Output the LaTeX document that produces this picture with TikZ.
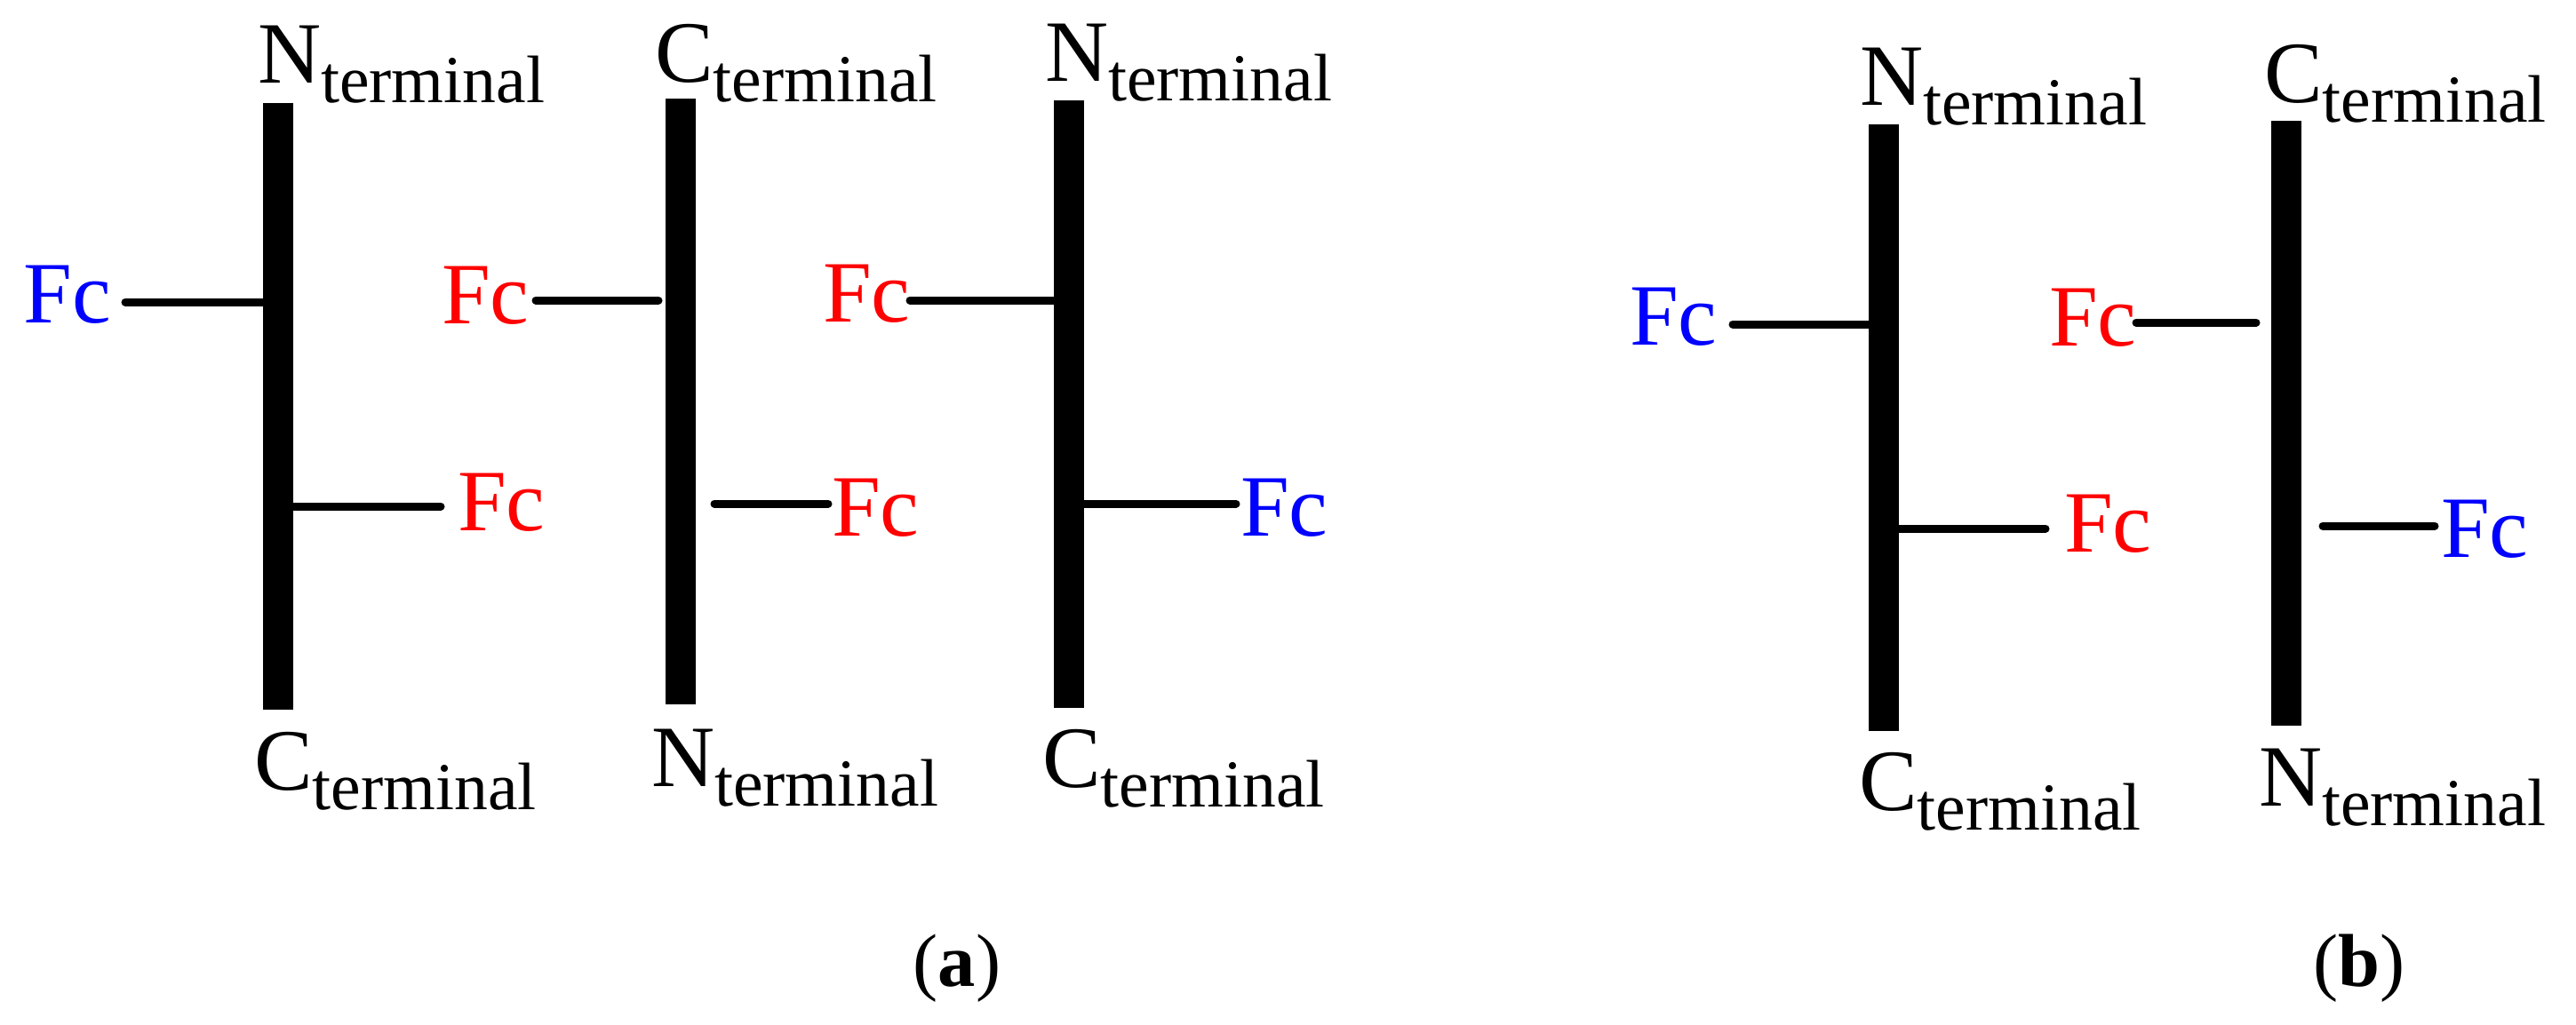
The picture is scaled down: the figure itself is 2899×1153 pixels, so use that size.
\documentclass[tikz,border=0pt]{standalone}
\usepackage{fontspec}
\setmainfont{Liberation Serif}
\definecolor{fcblue}{RGB}{0,0,255}
\definecolor{fcred}{RGB}{255,0,0}
\newcommand{\termlab}[1]{#1{\fontsize{21.5pt}{22pt}\selectfont\raisebox{-0.22cm}{terminal}}}
\begin{document}
\begin{tikzpicture}[x=0.01cm,y=-0.01cm,
  bar/.style={line width=0.34cm},
  stub/.style={line width=0.09cm, line cap=round},
  lab/.style={inner sep=0pt, outer sep=0pt, anchor=base west, font=\fontsize{28pt}{30pt}\selectfont},
  fcb/.style={lab, text=fcblue},
  fcr/.style={lab, text=fcred},
  panel/.style={inner sep=0pt, outer sep=0pt, anchor=base, font=\fontsize{24pt}{26pt}\selectfont}]
\useasboundingbox (0,0) rectangle (2899,1153);

% bar end points
\coordinate (b1t) at (313,116);  \coordinate (b1b) at (313,799);
\coordinate (b2t) at (766,111);  \coordinate (b2b) at (766,793);
\coordinate (b3t) at (1203,113); \coordinate (b3b) at (1203,797);
\coordinate (b4t) at (2120,140); \coordinate (b4b) at (2120,823);
\coordinate (b5t) at (2573,136); \coordinate (b5b) at (2573,817);

% stub end points
\coordinate (s1a) at (141,340);  \coordinate (s1b) at (313,340);
\coordinate (s2a) at (313,570);  \coordinate (s2b) at (496,570);
\coordinate (s3a) at (603,338);  \coordinate (s3b) at (741,338);
\coordinate (s4a) at (804,567);  \coordinate (s4b) at (932,567);
\coordinate (s5a) at (1024,338); \coordinate (s5b) at (1203,338);
\coordinate (s6a) at (1203,567); \coordinate (s6b) at (1391,567);
\coordinate (s7a) at (1950,365); \coordinate (s7b) at (2120,365);
\coordinate (s8a) at (2120,595); \coordinate (s8b) at (2302,595);
\coordinate (s9a) at (2404,363); \coordinate (s9b) at (2539,363);
\coordinate (s10a) at (2614,592); \coordinate (s10b) at (2740,592);

\foreach \i in {1,...,10} {\draw[stub] (s\i a) -- (s\i b);}
\foreach \i in {1,...,5} {\draw[bar] (b\i t) -- (b\i b);}

% terminal labels
\node[lab] (t1) at (290,93)   {\termlab{N}};
\node[lab] (u1) at (286,889)  {\termlab{C}};
\node[lab] (t2) at (737,92)   {\termlab{C}};
\node[lab] (u2) at (733,885)  {\termlab{N}};
\node[lab] (t3) at (1176,91)  {\termlab{N}};
\node[lab] (u3) at (1173,886) {\termlab{C}};
\node[lab] (t4) at (2093,118) {\termlab{N}};
\node[lab] (u4) at (2092,912) {\termlab{C}};
\node[lab] (t5) at (2548,115) {\termlab{C}};
\node[lab] (u5) at (2542,907) {\termlab{N}};

% Fc labels
\node[fcb] (f1) at (27,363)    {Fc};
\node[fcr] (f2) at (515,597)   {Fc};
\node[fcr] (f3) at (497,364)   {Fc};
\node[fcr] (f4) at (936,603)   {Fc};
\node[fcr] (f5) at (926,362)   {Fc};
\node[fcb] (f6) at (1396,603)  {Fc};
\node[fcb] (f7) at (1834,388)  {Fc};
\node[fcr] (f8) at (2323,621)  {Fc};
\node[fcr] (f9) at (2306,389)  {Fc};
\node[fcb] (f10) at (2747,627) {Fc};

% panel captions
\node[panel] (pa) at (1077,1110) {(\textbf{a})};
\node[panel] (pb) at (2655,1110) {(\textbf{b})};
\end{tikzpicture}
\end{document}
